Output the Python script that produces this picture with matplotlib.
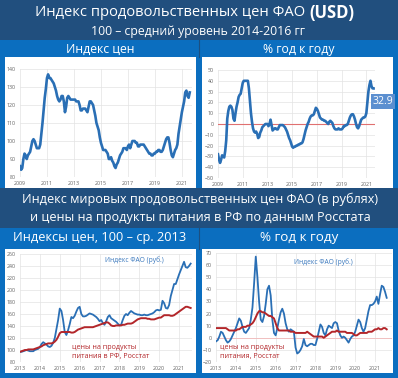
import numpy as np
import matplotlib
matplotlib.use("Agg")
import matplotlib.pyplot as plt
from matplotlib.patches import Rectangle
from matplotlib.lines import Line2D

plt.rcParams['font.family'] = ['Open Sans', 'DejaVu Sans']

# ---------------- data ----------------
# FAO food price index (USD, 2014-2016 = 100), monthly Jan 2009 .. Aug 2021
fao_usd = [
    86, 84, 85, 90, 93, 92, 90, 92, 93, 94, 97, 100,
    101, 100, 98, 96, 96, 96, 98, 104, 110, 117, 124, 129,
    135, 137, 135, 135, 134, 133, 132, 130, 128, 125, 123, 122,
    123, 125, 125, 122, 116, 119, 124, 125, 124, 123, 123, 123,
    123, 123, 122, 122, 122, 120, 117, 117, 118, 118, 118, 117,
    116, 119, 122, 122, 121, 120, 117, 114, 110, 108, 106, 102,
    99, 97, 95, 95, 95, 94, 93, 90, 90, 91, 89, 88,
    86, 85, 87, 88, 90, 92, 93, 94, 96, 96, 96, 95,
    97, 98, 96, 98, 100, 100, 100, 99, 99, 97, 97, 98,
    98, 98, 98, 97, 96, 95, 94, 93, 93, 92, 92, 93,
    93, 94, 94, 95, 95, 94, 94, 95, 97, 99, 101, 102,
    102, 99, 95, 92, 91, 93, 95, 96, 98, 104, 108, 112,
    116, 119, 122, 127, 128, 125, 124, 127,
]
# FAO index, % year on year, Jan 2009 .. Aug 2021
fao_usd_yoy = [
    -28, -33, -36, -33, -29, -30, -31, -25, -15, 5, 12, 16,
    17, 16, 13, 5, 3, 10, 16, 20, 25, 27, 28, 33,
    38, 40, 40, 40, 40, 40, 33, 22, 10, 2, -4, -7,
    -8, -7, -9, -13, -12, -8, -6, -3, -2, -1, 0, 0,
    0, -2, 0, 4, -1, -6, -5, -4, -4, -5, -5, -3,
    -1, -1, -1, -1, -2, -3, -5, -7, -10, -13, -15, -18,
    -21, -22, -21, -21, -20, -20, -19, -19, -18, -18, -17, -14,
    -10, -6, -3, 0, 2, 5, 7, 8, 8, 9, 12, 15,
    14, 12, 9, 6, 5, 4, 4, 3, 3, 2, 1, 0,
    2, 3, 2, 1, -2, -4, -5, -5, -5, -4, -5, -5,
    -5, -4, -2, -2, -1, -1, 0, 3, 6, 8, 9, 9,
    7, 4, 0, -3, -4, -2, 1, 4, 5, 6, 6, 7,
    10, 20, 30, 36, 40, 35, 33, 32.9,
]
# FAO index in rubles (2013 = 100), Jan 2013 .. Aug 2021
fao_rub = [
    97, 97, 98, 99, 100, 99, 98, 98, 98, 100, 101, 102,
    105, 110, 113, 111, 109, 106, 105, 107, 112, 120, 135, 150,
    169, 165, 150, 130, 125, 133, 143, 155, 153, 157, 164, 170,
    172, 160, 156, 156, 157, 159, 161, 160, 159, 157, 155, 152,
    148, 150, 145, 142, 148, 155, 158, 153, 151, 149, 147, 144,
    141, 142, 150, 157, 160, 158, 162, 165, 163, 161, 160, 159,
    159, 158, 158, 159, 158, 158, 159, 160, 161, 163, 166, 167,
    166, 167, 182, 178, 170, 169, 175, 190, 200, 210, 210, 218,
    226, 233, 240, 247, 238, 237, 240, 244,
]
# Rosstat food prices (2013 = 100), Jan 2013 .. Aug 2021
rosstat = [
    97, 98, 99, 100, 100, 101, 101, 101, 101, 102, 103, 104,
    105, 106, 108, 109, 110, 111, 111, 111, 112, 114, 117, 122,
    128, 130, 130, 130, 130, 130, 130, 129, 129, 130, 132, 134,
    135, 136, 137, 138, 138, 138, 138, 138, 138, 139, 140, 141,
    142, 143, 144, 145, 146, 146, 144, 141, 140, 140, 141, 141,
    141, 141, 142, 142, 143, 144, 144, 144, 145, 147, 149, 151,
    152, 153, 153, 153, 153, 152, 152, 151, 151, 151, 152, 153,
    154, 154, 156, 158, 158, 158, 158, 157, 157, 158, 160, 162,
    164, 166, 168, 170, 172, 172, 171, 170,
]
# % year on year, Jan 2013 .. Aug 2021
fao_rub_yoy = [
    -3, -2, 1, 5, 4, 1, -2, -4, -3, -1, 2, 5,
    8, 12, 16, 14, 9, 5, 4, 6, 8, 15, 25, 45,
    67, 50, 30, 15, 13, 18, 28, 40, 43, 35, 15, 4,
    2, 8, 15, 21, 24, 20, 12, 7, 5, 7, 6, 5,
    -8, -13, -12, -10, -7, -1, -6, -7, -6, -5, -5, -6,
    -6, -1, 5, 11, 9, 4, 2, 7, 10, 9, 8, 12,
    13, 12, 6, 2, 0, 1, 0, -2, -4, -1, 1, 2,
    5, 10, 15, 13, 8, 5, 8, 15, 22, 27, 27, 28,
    30, 34, 28, 36, 43, 42, 38, 33,
]
rosstat_yoy = [
    8, 8, 8, 8, 8, 8, 8, 7, 6, 6, 6, 6,
    6, 7, 7, 8, 9, 9, 9, 10, 10, 11, 12, 14,
    17, 20, 22, 22, 21, 21, 20, 19, 18, 18, 17, 16,
    12, 8, 6, 6, 6, 6, 6, 6, 6, 5, 5, 5,
    4, 4, 4, 4, 4, 4, 4, 5, 4, 3, 2, 1,
    1, 1, 1, 1, 1, 0, 1, 2, 3, 4, 5, 5,
    5, 6, 5, 5, 5, 5, 5, 4, 4, 4, 4, 3,
    2, 2, 3, 4, 4, 4, 4, 4, 5, 5, 5, 6,
    7, 7, 8, 7, 7, 8, 8, 7,
]
top_years = [2009, 2011, 2013, 2015, 2017, 2019, 2021]
bottom_years = list(range(2013, 2022))

x_top = 2009 + np.arange(len(fao_usd)) / 12
x_bot = 2013 + np.arange(len(fao_rub)) / 12

# ---------------- layout ----------------
W, H = 398, 378
fig = plt.figure(figsize=(W / 100, H / 100), dpi=100, facecolor='#0b6ebf')

DARK = '#214f7e'
LINEBLUE = '#2a6fb5'
RED = '#b3262a'


def rect(x0, y0, x1, y1, color, z=0):
    fig.add_artist(Rectangle((x0 / W, 1 - y1 / H), (x1 - x0) / W, (y1 - y0) / H,
                             transform=fig.transFigure, fc=color, ec='none', zorder=z))


def ftext(x, y, s, size, color='white', weight='normal', ha='center'):
    fig.text(x / W, 1 - y / H, s, fontsize=size, color=color, weight=weight,
             ha=ha, va='center')


def add_ax(x0, y0, x1, y1):
    return fig.add_axes([x0 / W, 1 - y1 / H, (x1 - x0) / W, (y1 - y0) / H])


# bands
rect(0, 0, W, 40, DARK)
rect(0, 188, W, 228, DARK)
# white panels
rect(5, 57, 196, 188, 'white')
rect(202, 57, 393, 188, 'white')
rect(5, 249, 196, 373, 'white')
rect(202, 249, 393, 373, 'white')
# dividers in subheader bands
for (ya, yb) in [(40, 57), (228, 249)]:
    fig.add_artist(Line2D([199 / W, 199 / W], [1 - ya / H, 1 - yb / H],
                          transform=fig.transFigure, color='#1d4f80', lw=0.8))

# texts
fig.text(309 / W, 1 - 13 / H, 'Индекс продовольственных цен ФАО ', fontsize=10.6,
         color='white', ha='right', va='center')
fig.text(309 / W, 1 - 13 / H, '(USD)', fontsize=12, color='white',
         weight='bold', ha='left', va='center')
ftext(198, 31, '100 – средний уровень 2014-2016 гг', 8.8)
ftext(100, 49, 'Индекс цен', 8.8)
ftext(299, 49, '% год к году', 8.8)
ftext(200, 199, 'Индекс мировых продовольственных цен ФАО (в рублях)', 9.1)
ftext(200, 218, 'и цены на продукты питания в РФ по данным Росстата', 9.1)
ftext(100, 238, 'Индексы цен, 100 – ср. 2013', 9.2)
ftext(299, 238, '% год к году', 9.6)


def style(ax, xticks, yticks, xlim, ylim):
    ax.set_facecolor('none')
    for s in ax.spines.values():
        s.set_visible(False)
    ax.set_xlim(*xlim)
    ax.set_ylim(*ylim)
    ax.set_xticks(xticks)
    ax.set_yticks(yticks)
    ax.set_xticklabels([str(v) for v in xticks])
    ax.grid(True, color='#e3e3e3', lw=0.5)
    ax.set_axisbelow(True)
    ax.tick_params(length=0, labelsize=3.8, labelcolor='#606060', pad=3)


# top-left
ax1 = add_ax(20, 69, 192, 177)
style(ax1, top_years, np.arange(80, 141, 10), (2009, 2021.75), (80, 140))
ax1.plot(x_top, fao_usd, color=LINEBLUE, lw=1.9, solid_joinstyle='round')

# top-right
ax2 = add_ax(218, 70, 375, 178)
style(ax2, top_years, np.arange(-50, 51, 10), (2009, 2021.7), (-50, 50))
ax2.axhline(0, color='#e07070', lw=0.8)
ax2.plot(x_top, fao_usd_yoy, color=LINEBLUE, lw=1.9, solid_joinstyle='round')
fig.text(383 / W, 1 - 101.5 / H, f'{fao_usd_yoy[-1]:.1f}', fontsize=7.5, color='white',
         ha='center', va='center',
         bbox=dict(boxstyle='square,pad=0.2', fc='#5b8fd0', ec='none'))

# bottom-left
ax3 = add_ax(20, 254, 192, 362)
style(ax3, bottom_years, np.arange(80, 261, 20), (2013, 2021.65), (80, 260))
ax3.plot(x_bot, fao_rub, color=LINEBLUE, lw=1.3)
ax3.plot(x_bot, rosstat, color=RED, lw=1.4)
ftext(134, 260, 'Индекс ФАО (руб.)', 4.8, color='#3a78bd')
fig.text(72 / W, 1 - 352 / H, 'цены на продукты\nпитания в РФ, Росстат', fontsize=5.1,
         color=RED, ha='left', va='center', linespacing=1.45)

# bottom-right
ax4 = add_ax(216, 253, 392, 362)
style(ax4, bottom_years, np.arange(-20, 71, 10), (2013, 2021.85), (-20, 70))
ax4.axhline(0, color='#f2b8b8', lw=0.6)
ax4.plot(x_bot, fao_rub_yoy, color=LINEBLUE, lw=1.3)
ax4.plot(x_bot, rosstat_yoy, color=RED, lw=1.4)
ftext(323, 262, 'Индекс ФАО (руб.)', 4.8, color='#3a78bd')
fig.text(220 / W, 1 - 352 / H, 'цены на продукты\nпитания, Росстат', fontsize=5.1,
         color=RED, ha='left', va='center', linespacing=1.45)

fig.savefig('out.png', dpi=100, facecolor=fig.get_facecolor())
